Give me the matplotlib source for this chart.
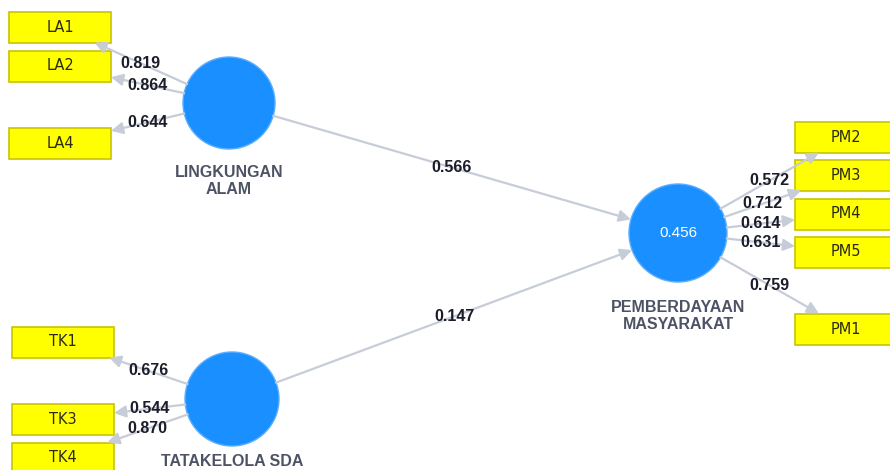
import numpy as np
import matplotlib.pyplot as plt
from matplotlib.patches import Ellipse, Rectangle, FancyArrowPatch

# Daten
konstrukte = ["LINGKUNGAN\nALAM", "TATAKELOLA SDA", "PEMBERDAYAAN\nMASYARAKAT"]
la_items = ["LA1", "LA2", "LA4"]
la_loadings = [0.819, 0.864, 0.644]
tk_items = ["TK1", "TK3", "TK4"]
tk_loadings = [0.676, 0.544, 0.870]
pm_items = ["PM2", "PM3", "PM4", "PM5", "PM1"]
pm_loadings = [0.572, 0.712, 0.614, 0.631, 0.759]
pfad_koeff = [0.566, 0.147]   # LA -> PM, TK -> PM
r2_pm = 0.456

# Layout (Pixel, Ursprung oben links)
knoten = {"LA": (229, 103), "TK": (232, 399), "PM": (678, 233)}
radius = {"LA": 46, "TK": 47, "PM": 49}
la_box = [(60, 27), (60, 66), (60, 143)]
tk_box = [(63, 342), (63, 419), (63, 458)]
pm_box = [(846, 137), (846, 175), (846, 214), (846, 252), (846, 329)]
box_w, box_h = 102, 31

blau = "#1a8fff"
pfeil = "#c6ccd8"
zahl = "#1c1c2a"
label_farbe = "#4d5364"

fig = plt.figure(figsize=(8.9, 4.7), dpi=100)
ax = fig.add_axes([0, 0, 1, 1])
ax.set_xlim(0, 890)
ax.set_ylim(470, 0)
ax.axis("off")


def kreisrand(c, r, ziel):
    c = np.array(c, float)
    d = np.array(ziel, float) - c
    return c + r * d / np.linalg.norm(d)


def boxrand(b, von):
    b = np.array(b, float)
    d = np.array(von, float) - b
    s = min(box_w / 2 / max(abs(d[0]), 1e-9), box_h / 2 / max(abs(d[1]), 1e-9))
    return b + s * d


def pfeil_zeichnen(p0, p1):
    a = FancyArrowPatch(p0, p1, arrowstyle="-|>,head_length=0.5,head_width=0.25",
                        mutation_scale=14, lw=1.6, color=pfeil,
                        shrinkA=0, shrinkB=0, zorder=4)
    ax.add_patch(a)


def zahl_text(x, y, wert):
    ax.text(x, y, "%.3f" % wert, ha="center", va="center", fontsize=11.5,
            fontweight="bold", color=zahl, family="Liberation Sans", zorder=5)


# Messmodelle
for key, items, loads, boxes in [("LA", la_items, la_loadings, la_box),
                                 ("TK", tk_items, tk_loadings, tk_box),
                                 ("PM", pm_items, pm_loadings, pm_box)]:
    c = knoten[key]
    for name, l, b in zip(items, loads, boxes):
        p0 = kreisrand(c, radius[key], b)
        p1 = boxrand(b, c)
        pfeil_zeichnen(p0, p1)
        m = (p0 + p1) / 2
        zahl_text(m[0], m[1], l)
        ax.add_patch(Rectangle((b[0] - box_w / 2, b[1] - box_h / 2), box_w, box_h,
                               facecolor="#ffff00", edgecolor="#c9c400", lw=1.2, zorder=3))
        ax.text(b[0], b[1], name, ha="center", va="center", fontsize=10.5,
                color="#2b2b10", family="DejaVu Sans", zorder=4)

# Strukturmodell
for key, k in zip(["LA", "TK"], pfad_koeff):
    p0 = kreisrand(knoten[key], radius[key], knoten["PM"])
    p1 = kreisrand(knoten["PM"], radius["PM"], knoten[key])
    pfeil_zeichnen(p0, p1)
    m = (p0 + p1) / 2
    zahl_text(m[0], m[1], k)

# Konstrukte
lab_y = {"LA": 181, "TK": 461, "PM": 316}
for key, name in zip(["LA", "TK", "PM"], konstrukte):
    x, y = knoten[key]
    r = radius[key]
    ax.add_patch(Ellipse((x, y), 2 * r, 2 * r, facecolor=blau,
                         edgecolor="#5aaeff", lw=1, zorder=3))
    ax.text(x, lab_y[key], name, ha="center", va="center", fontsize=11.5,
            fontweight="bold", color=label_farbe, family="Liberation Sans",
            linespacing=1.1, zorder=4)

ax.text(knoten["PM"][0], knoten["PM"][1], "%.3f" % r2_pm, ha="center", va="center",
        fontsize=11, color="white", family="Liberation Sans", zorder=4)

plt.savefig("out.png", dpi=100)
